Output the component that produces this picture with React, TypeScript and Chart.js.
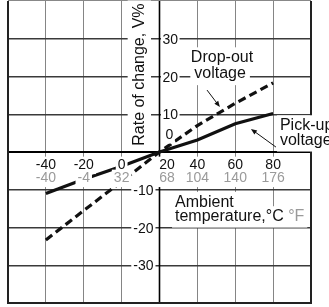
import React, { useEffect, useRef } from "react";
import { Chart, registerables } from "chart.js";

Chart.register(...registerables);

// ---- data ----
const tempC = [-40, -20, 0, 20, 40, 60, 80];
const pickUpVoltage = [-11, -7.2, -3.8, 0, 3.2, 7.5, 10.2];
const dropOutVoltage = [-23.3, -15.5, -7.8, 0, 7.0, 12.9, 18.3];
const celsiusTicks = ["-40", "-20", "0", "20", "40", "60", "80"];
const fahrenheitTicks = ["-40", "-4", "32", "68", "104", "140", "176"];
const rateTicks = [30, 20, 10, 0, -10, -20, -30];

const FONT = '"Liberation Sans", Arial, Helvetica, sans-serif';
const INK = "#111";
const GREY_TEXT = "#9a9a9a";

type Item = {
  text: string;
  x: number;
  y: number;
  align: CanvasTextAlign;
  color: string;
  size: number;
  pad: number;
  extra?: { text: string; color: string };
};

function drawArrow(ctx: CanvasRenderingContext2D, x1: number, y1: number, x2: number, y2: number) {
  const ang = Math.atan2(y2 - y1, x2 - x1);
  const len = 6;
  const hw = 2.4;
  ctx.save();
  ctx.strokeStyle = INK;
  ctx.fillStyle = INK;
  ctx.lineWidth = 1;
  ctx.beginPath();
  ctx.moveTo(x1, y1);
  ctx.lineTo(x2 - Math.cos(ang) * len * 0.6, y2 - Math.sin(ang) * len * 0.6);
  ctx.stroke();
  ctx.beginPath();
  ctx.moveTo(x2, y2);
  ctx.lineTo(x2 - Math.cos(ang) * len - Math.sin(ang) * hw, y2 - Math.sin(ang) * len + Math.cos(ang) * hw);
  ctx.lineTo(x2 - Math.cos(ang) * len + Math.sin(ang) * hw, y2 - Math.sin(ang) * len - Math.cos(ang) * hw);
  ctx.closePath();
  ctx.fill();
  ctx.restore();
}

const decorPlugin = {
  id: "decor",
  beforeDatasetsDraw(chart: any) {
    const { ctx, chartArea, scales } = chart;
    const xs = scales.x;
    const ys = scales.y;
    ctx.save();
    ctx.strokeStyle = "#000";
    // horizontal axis (0 %)
    ctx.lineWidth = 2;
    ctx.beginPath();
    ctx.moveTo(chartArea.left, ys.getPixelForValue(0));
    ctx.lineTo(chartArea.right, ys.getPixelForValue(0));
    ctx.stroke();
    // vertical axis (20 °C)
    ctx.lineWidth = 1.6;
    ctx.beginPath();
    ctx.moveTo(xs.getPixelForValue(20), chartArea.top);
    ctx.lineTo(xs.getPixelForValue(20), chartArea.bottom);
    ctx.stroke();
    ctx.restore();
  },
  afterDatasetsDraw(chart: any) {
    const { ctx, chartArea, scales } = chart;
    const X = (v: number) => scales.x.getPixelForValue(v);
    const Y = (v: number) => scales.y.getPixelForValue(v);

    // frame
    ctx.save();
    ctx.strokeStyle = "#222";
    ctx.lineWidth = 2;
    ctx.beginPath();
    ctx.moveTo(chartArea.left, chartArea.top);
    ctx.lineTo(chartArea.left, chartArea.bottom);
    ctx.lineTo(chartArea.right, chartArea.bottom);
    ctx.lineTo(chartArea.right, chartArea.top);
    ctx.stroke();
    ctx.strokeStyle = "#888";
    ctx.lineWidth = 1;
    ctx.beginPath();
    ctx.moveTo(chartArea.left, chartArea.top - 0.5);
    ctx.lineTo(chartArea.right, chartArea.top - 0.5);
    ctx.stroke();
    ctx.restore();

    const items: Item[] = [];
    const tickSize = 14;
    const labSize = 16;
    const zeroY = Y(0);
    // x tick labels (°C and °F)
    tempC.forEach((t, i) => {
      const px = X(t) + (t === 20 ? 7.5 : 0);
      items.push({ text: celsiusTicks[i], x: px, y: zeroY + 17, align: "center", color: INK, size: tickSize, pad: 2 });
      items.push({ text: fahrenheitTicks[i], x: px, y: zeroY + 30, align: "center", color: GREY_TEXT, size: tickSize, pad: 2 });
    });
    // y tick labels
    rateTicks.forEach((v) => {
      const txt = String(v);
      if (v > 0) items.push({ text: txt, x: X(20) + 3, y: Y(v) + 5, align: "left", color: INK, size: tickSize, pad: 1.5 });
      else if (v === 0) items.push({ text: txt, x: X(20) + 6, y: Y(v) - 13, align: "left", color: INK, size: tickSize, pad: 1.5 });
      else items.push({ text: txt, x: X(20) - 6, y: Y(v) + 5, align: "right", color: INK, size: tickSize, pad: 2 });
    });
    // annotation texts
    items.push({ text: "Drop-out", x: X(53), y: Y(23.8), align: "center", color: INK, size: labSize, pad: 3 });
    items.push({ text: "voltage", x: X(52), y: Y(19.7), align: "center", color: INK, size: labSize, pad: 4 });
    items.push({ text: "Pick-up", x: X(83.6), y: Y(5.8), align: "left", color: INK, size: labSize, pad: 3 });
    items.push({ text: "voltage", x: X(83.6), y: Y(1.85), align: "left", color: INK, size: labSize, pad: 3 });
    items.push({ text: "Ambient", x: X(28.2), y: Y(-14.5), align: "left", color: INK, size: labSize, pad: 3 });
    items.push({
      text: "temperature,°C ",
      x: X(28.2),
      y: Y(-18.3),
      align: "left",
      color: INK,
      size: labSize,
      pad: 3,
      extra: { text: "°F", color: GREY_TEXT },
    });

    ctx.save();
    ctx.textBaseline = "alphabetic";
    // boxes first
    items.forEach((it) => {
      ctx.font = `${it.size}px ${FONT}`;
      ctx.textAlign = "left";
      let w = ctx.measureText(it.text).width;
      if (it.extra) w += ctx.measureText(it.extra.text).width;
      const left = it.align === "center" ? it.x - w / 2 : it.align === "right" ? it.x - w : it.x;
      const asc = it.size * 0.74;
      const desc = it.size * 0.22;
      ctx.fillStyle = "#fff";
      ctx.fillRect(left - it.pad, it.y - asc - it.pad, w + it.pad * 2, asc + desc + it.pad * 2);
    });
    // then texts
    items.forEach((it) => {
      ctx.font = `${it.size}px ${FONT}`;
      ctx.textAlign = it.align;
      ctx.fillStyle = it.color;
      ctx.fillText(it.text, it.x, it.y);
      if (it.extra) {
        ctx.textAlign = "left";
        const w = ctx.measureText(it.text).width;
        ctx.fillStyle = it.extra.color;
        ctx.fillText(it.extra.text, it.x + w, it.y);
      }
    });

    // rotated y-axis title
    const title = "Rate of change, V%";
    ctx.font = `${labSize}px ${FONT}`;
    const tw = ctx.measureText(title).width;
    ctx.translate(X(20) - 16, Y(20.5));
    ctx.rotate(-Math.PI / 2);
    ctx.fillStyle = "#fff";
    ctx.fillRect(-tw / 2 - 3, -labSize * 0.74 - 4, tw + 6, labSize * 0.96 + 8);
    ctx.fillStyle = INK;
    ctx.textAlign = "center";
    ctx.fillText(title, 0, 0);
    ctx.restore();

    // arrows
    drawArrow(ctx, X(45.1), Y(16.4), X(51.9), Y(11.9));
    drawArrow(ctx, X(81.5), Y(1.3), X(68.3), Y(6.1));
  },
};

export default function App() {
  const ref = useRef<HTMLCanvasElement | null>(null);
  useEffect(() => {
    if (!ref.current) return;
    const chart = new Chart(ref.current, {
      type: "line",
      data: {
        datasets: [
          {
            label: "Pick-up voltage",
            data: tempC.map((t, i) => ({ x: t, y: pickUpVoltage[i] })),
            borderColor: INK,
            borderWidth: 3.2,
            pointRadius: 0,
            tension: 0,
            fill: false,
          },
          {
            label: "Drop-out voltage",
            data: tempC.map((t, i) => ({ x: t, y: dropOutVoltage[i] })),
            borderColor: INK,
            borderWidth: 3.2,
            borderDash: [8, 4.5],
            pointRadius: 0,
            tension: 0,
            fill: false,
          },
        ],
      },
      options: {
        animation: false,
        responsive: false,
        devicePixelRatio: 1,
        layout: { padding: { left: 8, right: 18, top: 1, bottom: 4 } },
        plugins: { legend: { display: false }, tooltip: { enabled: false } },
        scales: {
          x: {
            type: "linear",
            min: -60,
            max: 100,
            ticks: { stepSize: 20, display: false },
            grid: {
              drawTicks: false,
              lineWidth: 1,
              color: (c: any) => (c.tick && (c.tick.value === -60 || c.tick.value === 100) ? "rgba(0,0,0,0)" : "#858585"),
            },
            border: { display: false },
          },
          y: {
            type: "linear",
            min: -40,
            max: 40,
            ticks: { stepSize: 10, display: false },
            grid: {
              drawTicks: false,
              lineWidth: 1.5,
              color: (c: any) => (c.tick && (c.tick.value === -40 || c.tick.value === 40) ? "rgba(0,0,0,0)" : "#3a3a3a"),
            },
            border: { display: false },
          },
        },
      },
      plugins: [decorPlugin],
    });
    return () => chart.destroy();
  }, []);
  return (
    <canvas
      ref={ref}
      width={329}
      height={307}
      style={{ position: "fixed", left: 0, top: 0, width: 329, height: 307, display: "block", background: "#fff" }}
    />
  );
}
